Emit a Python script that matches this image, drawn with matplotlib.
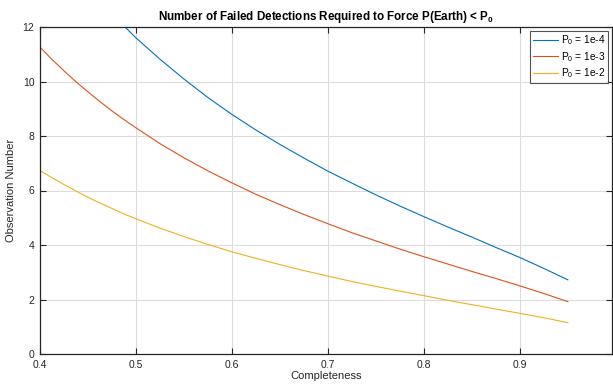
import numpy as np
import matplotlib
matplotlib.use("Agg")
import matplotlib.pyplot as plt

plt.rcParams['font.family'] = ['Liberation Sans', 'DejaVu Sans']
plt.rcParams['mathtext.fontset'] = 'custom'
plt.rcParams['mathtext.rm'] = 'Liberation Sans'
plt.rcParams['mathtext.it'] = 'Liberation Sans'
plt.rcParams['mathtext.bf'] = 'Liberation Sans:bold'

# completeness grid
completeness = [0.4000, 0.4125, 0.4250, 0.4375, 0.4500, 0.4625, 0.4750, 0.4875,
                0.500, 0.525, 0.550, 0.575,
                0.600, 0.625, 0.650, 0.675, 0.700, 0.725, 0.750, 0.775,
                0.800, 0.825, 0.850, 0.875, 0.900, 0.925, 0.950]

# observations needed for each threshold P0
n_1e4 = [15.80, 15.19, 14.60, 14.04, 13.50, 12.99, 12.50, 12.04,
         11.60, 10.82, 10.09, 9.41,
         8.79, 8.22, 7.69, 7.19, 6.71, 6.27, 5.84, 5.43,
         5.04, 4.66, 4.29, 3.91, 3.54, 3.14, 2.72]
n_1e3 = [11.26, 10.81, 10.39, 9.99, 9.62, 9.26, 8.92, 8.60,
         8.30, 7.72, 7.20, 6.72,
         6.28, 5.86, 5.48, 5.12, 4.78, 4.45, 4.15, 3.85,
         3.57, 3.30, 3.03, 2.77, 2.50, 2.22, 1.92]
n_1e2 = [6.73, 6.47, 6.22, 5.98, 5.75, 5.54, 5.34, 5.14,
         4.96, 4.62, 4.31, 4.02,
         3.75, 3.51, 3.28, 3.06, 2.86, 2.66, 2.48, 2.31,
         2.14, 1.97, 1.81, 1.65, 1.49, 1.33, 1.15]

labels = ['P$_0$ = 1e-4', 'P$_0$ = 1e-3', 'P$_0$ = 1e-2']
colors = ['#0072BD', '#D95319', '#EDB120']

fig = plt.figure(figsize=(6.13, 3.88), dpi=100)
ax = fig.add_axes([40/613, 34/388, 572/613, 327/388])

for y, lab, c in zip([n_1e4, n_1e3, n_1e2], labels, colors):
    ax.plot(completeness, y, color=c, lw=0.8, label=lab)

ax.set_xlim(0.4, 0.996)
ax.set_ylim(0, 12)
ax.set_xticks([0.4, 0.5, 0.6, 0.7, 0.8, 0.9])
ax.set_yticks([0, 2, 4, 6, 8, 10, 12])
ax.grid(True, color='#dcdcdc', lw=0.8)
ax.set_axisbelow(True)

axcol = '#262626'
for s in ax.spines.values():
    s.set_color(axcol)
    s.set_linewidth(0.9)
ax.tick_params(direction='in', length=4, width=0.8, colors=axcol,
               labelsize=7.5, top=True, right=True, pad=4)

ax.set_xlabel('Completeness', fontsize=8, color=axcol, labelpad=1)
ax.set_ylabel('Observation Number', fontsize=8, color=axcol, labelpad=5)
ax.set_title(r'Number of Failed Detections Required to Force P(Earth) < $\mathbf{P_0}$',
             fontsize=8.4, fontweight='bold', pad=5)

leg = ax.legend(loc='upper right', fontsize=7.3, frameon=True, fancybox=False,
                edgecolor=axcol, handlelength=2.4, handletextpad=0.3,
                borderpad=0.3, labelspacing=0.25, borderaxespad=0.35)
leg.get_frame().set_linewidth(0.8)

fig.savefig('out.png', dpi=100)
